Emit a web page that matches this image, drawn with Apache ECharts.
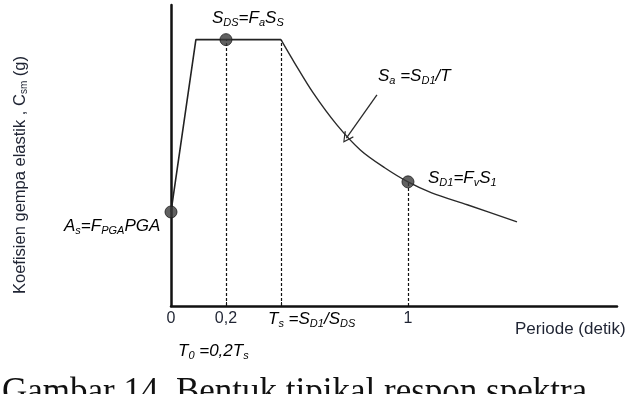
<!DOCTYPE html>
<html>
<head>
<meta charset="utf-8">
<script src="https://cdn.jsdelivr.net/npm/echarts@6/dist/echarts.min.js"></script>
<style>
  html, body { margin: 0; padding: 0; background: #fff; }
  #chart { width: 632px; height: 394px; }
</style>
</head>
<body>
<div id="chart"></div>
<script>
// ramp up from As, then the flat plateau up to Ts
var rampT = [0, 0.105, 0.464];
var rampSa = [0.353, 1.0, 1.0];
// descending branch Sa = SD1/T
var curveT = [0.464, 0.52, 0.60, 0.70, 0.80, 0.90, 1.0, 1.10, 1.25, 1.46];
var curveSa = [1.0, 0.915, 0.80, 0.68, 0.585, 0.52, 0.466, 0.425, 0.38, 0.316];
// marked points: As, SDS, SD1
var pointT = [0, 0.232, 1];
var pointSa = [0.353, 1.0, 0.466];
// dashed drop lines at T0, Ts, 1
var dropT = [0.232, 0.464, 1];
var dropSa = [1.0, 1.0, 0.466];
// x axis ticks
var tickValues = [0, 0.232, 1];
var tickLabels = ['0', '0,2', '1'];
var minorTicks = [0.232, 0.464];
// arrow of the Sa = SD1/T note
var arrowFrom = [0.869, 0.793];
var arrowTo = [0.74, 0.63];

var chart = echarts.init(document.getElementById('chart'));

var ink = '#222';
var labelColor = '#1f2433';
var richMath = {
    i: { fontFamily: 'Liberation Sans', fontStyle: 'italic', fontSize: 17, color: labelColor, verticalAlign: 'middle', lineHeight: 19 },
    s: { fontFamily: 'Liberation Sans', fontStyle: 'italic', fontSize: 11, color: labelColor, verticalAlign: 'bottom', lineHeight: 19 }
};

function zip(xs, ys) {
    return xs.map(function (x, k) { return [x, ys[k]]; });
}

function mathText(left, y, str) {
    return {
        type: 'text',
        left: left,
        top: y - 10,
        style: { text: str, rich: richMath }
    };
}

var dropLines = dropT.map(function (t, k) {
    return [{ coord: [t, 0] }, { coord: [t, dropSa[k]] }];
});

var option = {
    animation: false,
    grid: { left: 171, right: 15, top: 5, bottom: 88 },
    xAxis: {
        type: 'value',
        min: 0,
        max: 1.882,
        splitLine: { show: false },
        axisLine: { onZero: false, lineStyle: { color: '#111', width: 2.5 } },
        axisTick: { show: true, inside: true, length: 4, customValues: minorTicks, lineStyle: { color: '#111', width: 1 } },
        axisLabel: {
            customValues: tickValues,
            margin: 5,
            fontFamily: 'Liberation Sans',
            fontSize: 16,
            color: labelColor,
            formatter: function (v) {
                var k = tickValues.indexOf(v);
                return k >= 0 ? tickLabels[k] : '';
            }
        }
    },
    yAxis: {
        type: 'value',
        min: 0,
        max: 1.13,
        splitLine: { show: false },
        axisLine: { show: true, lineStyle: { color: '#111', width: 2.5 } },
        axisTick: { show: false },
        axisLabel: { show: false }
    },
    series: [
        {
            type: 'line',
            data: zip(rampT, rampSa),
            symbol: 'none',
            lineStyle: { color: ink, width: 1.6 },
            markLine: {
                silent: true,
                symbol: ['none', 'none'],
                label: { show: false },
                lineStyle: { color: '#111', type: [3, 2], width: 1.2 },
                data: dropLines
            }
        },
        {
            type: 'line',
            data: zip(curveT, curveSa),
            smooth: 0.3,
            symbol: 'none',
            lineStyle: { color: '#2a2a2a', width: 1.4 },
            markLine: {
                silent: true,
                symbol: ['none', 'path://M0,0 L6,10 L4.8,10.8 L0,2.2 L-4.8,10.8 L-6,10 Z'],
                symbolSize: [11, 11],
                label: { show: false },
                lineStyle: { color: '#2a2a2a', type: 'solid', width: 1.3 },
                data: [[{ coord: arrowFrom }, { coord: arrowTo }]]
            }
        },
        {
            type: 'scatter',
            data: zip(pointT, pointSa),
            symbolSize: 12,
            itemStyle: { color: '#3a3a3a', borderColor: '#1a1a1a', borderWidth: 1 },
            z: 5
        }
    ],
    graphic: [
        mathText(212, 20, '{i|S}{s|DS}{i|=F}{s|a}{i|S}{s|S}'),
        mathText(378, 78, '{i|S}{s|a}{i| =S}{s|D1}{i|/T}'),
        mathText(428, 180, '{i|S}{s|D1}{i|=F}{s|v}{i|S}{s|1}'),
        mathText(64, 228, '{i|A}{s|s}{i|=F}{s|PGA}{i|PGA}'),
        mathText(268, 321, '{i|T}{s|s}{i| =S}{s|D1}{i|/S}{s|DS}'),
        mathText(178, 353, '{i|T}{s|0}{i| =0,2T}{s|s}'),
        {
            type: 'text',
            left: 515,
            top: 321,
            style: { text: 'Periode (detik)', fontFamily: 'Liberation Sans', fontSize: 17, fill: labelColor }
        },
        {
            type: 'text',
            x: 20,
            y: 175,
            rotation: Math.PI / 2,
            style: {
                text: 'Koefisien gempa elastik , C{s|sm} (g)',
                fontFamily: 'Liberation Sans',
                fontSize: 16.5,
                fill: labelColor,
                align: 'center',
                verticalAlign: 'middle',
                rich: { s: { fontFamily: 'Liberation Sans', fontSize: 10, color: labelColor, verticalAlign: 'bottom', lineHeight: 18 } }
            }
        },
        {
            type: 'text',
            x: 2,
            y: 393,
            style: {
                text: 'Gambar 14. Bentuk tipikal respon spektra',
                fontFamily: 'Liberation Serif',
                fontSize: 35,
                fill: '#111',
                verticalAlign: 'middle'
            }
        }
    ]
};

chart.setOption(option);
</script>
</body>
</html>
